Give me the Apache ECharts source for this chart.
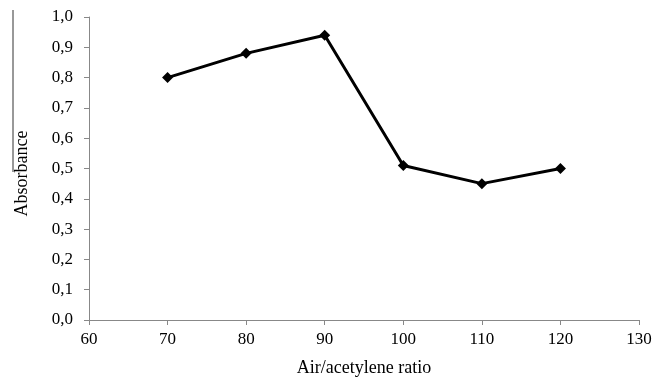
<!DOCTYPE html>
<html><head><meta charset="utf-8">
<script src="https://cdn.jsdelivr.net/npm/echarts@6/dist/echarts.min.js"></script>
<style>html,body{margin:0;padding:0;background:#fff}#c{width:656px;height:378px}</style>
</head><body><div id="c"></div>
<script>
const xValues = [70, 80, 90, 100, 110, 120];
const absorbance = [0.80, 0.88, 0.94, 0.51, 0.45, 0.50];
const xTitle = 'Air/acetylene ratio';
const yTitle = 'Absorbance';

const chart = echarts.init(document.getElementById('c'));
const font = '"Liberation Serif", "Times New Roman", serif';
chart.setOption({
  animation: false,
  grid: {left: 89, right: 17, top: 17, bottom: 58, containLabel: false, outerBoundsMode: 'none'},
  xAxis: {
    type: 'value', min: 60, max: 130, interval: 10,
    name: xTitle, nameLocation: 'middle', nameGap: 39,
    nameTextStyle: {fontFamily: font, fontSize: 18, color: '#000'},
    axisLine: {lineStyle: {color: '#888'}},
    axisTick: {show: true, length: 5, lineStyle: {color: '#888'}},
    axisLabel: {fontFamily: font, fontSize: 17, color: '#000', margin: 11},
    splitLine: {show: false}
  },
  yAxis: {
    type: 'value', min: 0, max: 1, interval: 0.1,
    name: yTitle, nameLocation: 'middle', nameGap: 58, nameRotate: 90,
    nameTextStyle: {fontFamily: font, fontSize: 18, color: '#000', padding: [0,0,0,-10]},
    axisLine: {show: true, lineStyle: {color: '#888'}},
    axisTick: {show: true, length: 5, lineStyle: {color: '#888'}},
    axisLabel: {fontFamily: font, fontSize: 17, color: '#000', margin: 16,
      formatter: v => v.toFixed(1).replace('.', ',')},
    splitLine: {show: false}
  },
  graphic: [{type: 'line', shape: {x1: 13, y1: 10, x2: 13, y2: 172}, style: {stroke: '#333', lineWidth: 1}}],
  series: [{
    type: 'line',
    data: xValues.map((x, i) => [x, absorbance[i]]),
    symbol: 'diamond', symbolSize: 11,
    lineStyle: {color: '#000', width: 3},
    itemStyle: {color: '#000'}
  }]
});
</script></body></html>
